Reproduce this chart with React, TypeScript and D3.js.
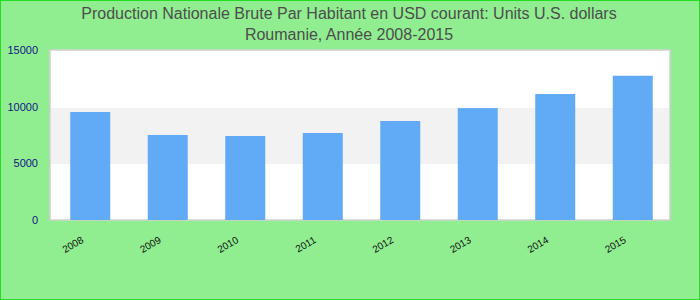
import React, { useEffect } from "react";
import * as d3 from "d3";

const years = ["2008", "2009", "2010", "2011", "2012", "2013", "2014", "2015"];
const values = [9640, 7590, 7500, 7770, 8840, 9990, 11250, 12880];
const yTicks = [0, 5000, 10000, 15000];
const titleLines = [
  "Production Nationale Brute Par Habitant en USD courant: Units U.S. dollars",
  "Roumanie, Année 2008-2015",
];

const W = 700;
const H = 300;
const plot = { left: 50, right: 670, top: 50, bottom: 220 };

export default function App() {
  useEffect(() => {
    document.body.style.margin = "0";
  }, []);

  const x = d3
    .scaleBand<string>()
    .domain(years)
    .range([plot.left + 1.5, plot.right + 1.5])
    .paddingInner(0.484)
    .paddingOuter(0.242);
  const y = d3.scaleLinear().domain([0, 15000]).range([plot.bottom, 52]);
  const yLabel = d3.scaleLinear().domain([0, 15000]).range([plot.bottom, plot.top]);
  const font = "'Liberation Sans', Arial, sans-serif";

  return (
    <svg width={W} height={H} style={{ display: "block" }} fontFamily={font}>
      <rect x={0.5} y={0.5} width={W - 1} height={H - 1} fill="#90ee90" stroke="#22dd22" strokeWidth={1} />
      {titleLines.map((t, i) => (
        <text key={i} x={349} y={19 + i * 21} textAnchor="middle" fontSize={16} fill="#4d4d4d">
          {t}
        </text>
      ))}
      <rect
        x={plot.left}
        y={plot.top}
        width={plot.right - plot.left}
        height={plot.bottom - plot.top}
        fill="#ffffff"
        stroke="#d0d0d0"
        strokeWidth={1.5}
      />
      {yTicks.slice(0, -1).map((t, i) =>
        i % 2 === 1 ? (
          <rect
            key={t}
            x={plot.left + 1}
            y={y(yTicks[i + 1])}
            width={plot.right - plot.left - 2}
            height={y(t) - y(yTicks[i + 1])}
            fill="#f2f2f2"
          />
        ) : null
      )}
      {years.map((yr, i) => (
        <rect
          key={yr}
          x={x(yr)}
          y={y(values[i])}
          width={x.bandwidth()}
          height={y(0) - y(values[i])}
          fill="#61aaf5"
        />
      ))}
      {yTicks.map((t) => (
        <text key={t} x={38} y={yLabel(t) + 4} textAnchor="end" fontSize={11} fill="#14148a">
          {t}
        </text>
      ))}
      {years.map((yr) => {
        const cx = (x(yr) as number) + x.bandwidth() / 2;
        return (
          <text
            key={yr}
            transform={`translate(${cx - 6},${242}) rotate(-30)`}
            textAnchor="end"
            fontSize={10}
            fill="#111"
          >
            {yr}
          </text>
        );
      })}
    </svg>
  );
}
